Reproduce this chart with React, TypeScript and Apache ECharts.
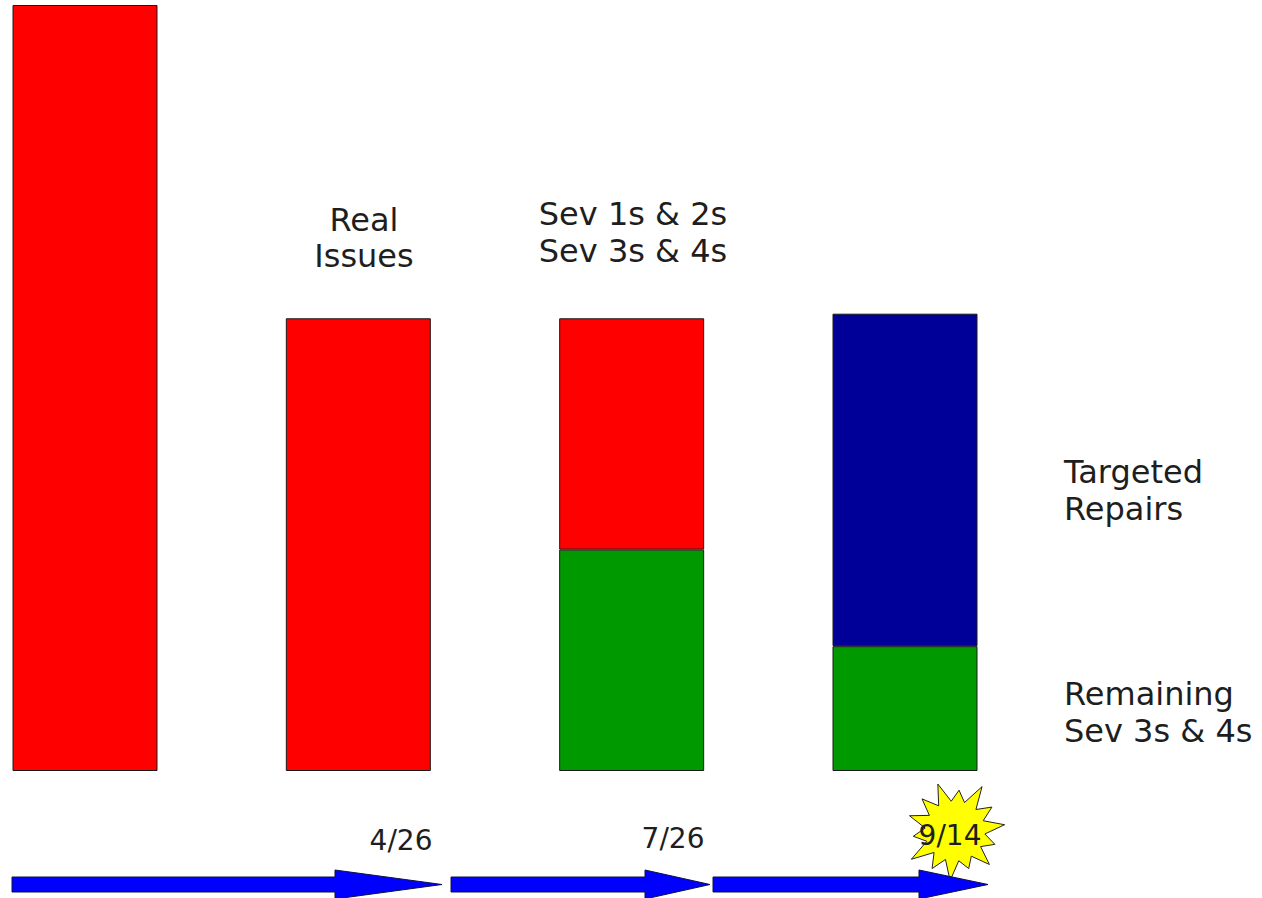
import React, { useEffect, useRef } from "react";
import * as echarts from "echarts";

// ---- data ----
const categories = ["Start", "Real Issues", "Sev Split", "Targeted"];
const remainingSev34 = ["-", "-", 28.9, 16.3];
const issuesRed = [100, 59.1, 30.2, "-"];
const targetedRepairs = ["-", "-", "-", 43.4];
const dateLabels = ["4/26", "7/26", "9/14"];
const barNotes = [["Real", "Issues"], ["Sev 1s & 2s", "Sev 3s & 4s"]];
const legendNotes = [["Targeted", "Repairs"], ["Remaining", "Sev 3s & 4s"]];

const FONT = '"DejaVu Sans", Verdana, sans-serif';
const TXT = "#1e1e1e";

function arrow(x0: number, xh: number, tip: number) {
  return {
    type: "polygon",
    z: 10,
    shape: {
      points: [
        [x0, 877], [xh, 877], [xh, 870], [tip, 884.5],
        [xh, 899], [xh, 892], [x0, 892],
      ],
    },
    style: { fill: "#0000FF", stroke: "#101040", lineWidth: 1 },
  };
}

function starPoints(cx: number, cy: number) {
  const outer = [50, 41, 52, 44, 50, 42, 48, 40, 50, 44, 52, 42, 48, 46];
  const inner = 30;
  const pts: number[][] = [];
  const n = outer.length;
  for (let i = 0; i < n; i++) {
    const a1 = -Math.PI / 2 - 0.35 + (i * 2 * Math.PI) / n;
    const a2 = a1 + Math.PI / n;
    pts.push([cx + outer[i] * Math.cos(a1), cy + outer[i] * Math.sin(a1)]);
    pts.push([cx + inner * Math.cos(a2), cy + inner * Math.sin(a2)]);
  }
  return pts;
}

function txt(lines: string[], x: number, y: number, size: number, align: string, lh: number) {
  return {
    type: "text",
    z: 20,
    x,
    y,
    style: {
      text: lines.join("\n"),
      fill: TXT,
      fontSize: size,
      fontFamily: FONT,
      lineHeight: lh,
      textAlign: align,
      textVerticalAlign: "middle",
      align,
      verticalAlign: "middle",
    },
  };
}

export default function App() {
  const ref = useRef<HTMLDivElement>(null);
  useEffect(() => {
    if (!ref.current) return;
    const chart = echarts.init(ref.current, null, { renderer: "svg" });
    const border = { borderColor: "#1a1a1a", borderWidth: 1 };
    chart.setOption({
      animation: false,
      backgroundColor: "#ffffff",
      grid: { left: 85, top: 5, width: 820, height: 766 },
      xAxis: { type: "category", data: categories, show: false, boundaryGap: false },
      yAxis: { type: "value", min: 0, max: 100, show: false },
      series: [
        {
          name: "Remaining Sev 3s & 4s",
          type: "bar",
          stack: "s",
          barWidth: 145,
          data: remainingSev34,
          itemStyle: { color: "#009900", ...border },
        },
        {
          name: "Issues",
          type: "bar",
          stack: "s",
          barWidth: 145,
          data: issuesRed,
          itemStyle: { color: "#FF0000", ...border },
        },
        {
          name: "Targeted Repairs",
          type: "bar",
          stack: "s",
          barWidth: 145,
          data: targetedRepairs,
          itemStyle: { color: "#000099", ...border },
        },
      ],
      graphic: [
        {
          type: "polygon",
          z: 5,
          shape: { points: starPoints(955, 831) },
          style: { fill: "#FFFF00", stroke: "#222", lineWidth: 1 },
        },
        arrow(12, 335, 442),
        arrow(451, 645, 710),
        arrow(713, 919, 988),
        txt(barNotes[0], 364, 237.5, 32, "center", 36),
        txt(barNotes[1], 633, 232.5, 32, "center", 37),
        txt(legendNotes[0], 1064, 490.5, 32, "left", 37),
        txt(legendNotes[1], 1064, 712.5, 32, "left", 37),
        txt([dateLabels[0]], 401, 840, 28, "center", 30),
        txt([dateLabels[1]], 673, 838, 28, "center", 30),
        txt([dateLabels[2]], 950, 835, 28, "center", 30),
      ],
    });
    return () => chart.dispose();
  }, []);
  return (
    <div
      ref={ref}
      style={{ position: "fixed", left: 0, top: 0, width: 1262, height: 898, background: "#fff" }}
    />
  );
}
